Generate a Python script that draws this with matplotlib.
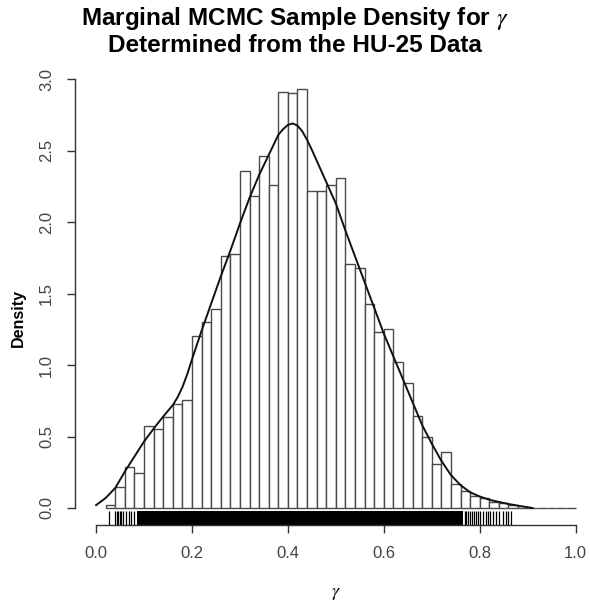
import numpy as np
import matplotlib
matplotlib.use("Agg")
import matplotlib.pyplot as plt
from matplotlib.patches import Rectangle

plt.rcParams['font.family'] = ['Liberation Sans', 'DejaVu Sans']
plt.rcParams['mathtext.fontset'] = 'stix'

# ---- data ----
bin_start = 0.02
bin_width = 0.02
hist_density = [0.02, 0.145, 0.287, 0.245, 0.573, 0.551, 0.637, 0.725, 0.758,
                1.20, 1.30, 1.39, 1.76, 1.78, 2.36, 2.18, 2.46, 2.26, 2.91,
                2.90, 2.93, 2.22, 2.22, 2.26, 2.31, 1.71, 1.68, 1.43, 1.23,
                1.25, 1.02, 0.876, 0.643, 0.494, 0.305, 0.39, 0.168, 0.121,
                0.085, 0.068, 0.044, 0.037, 0.021, 0.0, 0.0, 0.0, 0.0, 0.0, 0.0]

kde_x = [0.0, 0.02, 0.04, 0.06, 0.08, 0.10, 0.12, 0.14, 0.16, 0.17, 0.18,
         0.19, 0.20, 0.22, 0.24, 0.26, 0.28, 0.30, 0.32, 0.34, 0.36, 0.38,
         0.39, 0.40, 0.41, 0.42, 0.43, 0.44, 0.45, 0.46, 0.48, 0.50, 0.52,
         0.54, 0.56, 0.58, 0.60, 0.62, 0.64, 0.66, 0.68, 0.70, 0.72, 0.74,
         0.76, 0.78, 0.80, 0.82, 0.84, 0.86, 0.88, 0.91]
kde_y = [0.02, 0.07, 0.14, 0.255, 0.36, 0.465, 0.555, 0.64, 0.72, 0.775, 0.845,
         0.935, 1.04, 1.24, 1.43, 1.62, 1.80, 1.99, 2.17, 2.33, 2.47, 2.61,
         2.65, 2.68, 2.69, 2.675, 2.635, 2.575, 2.505, 2.43, 2.28, 2.13, 1.94,
         1.76, 1.58, 1.40, 1.22, 1.06, 0.90, 0.74, 0.58, 0.45, 0.33, 0.23,
         0.16, 0.11, 0.08, 0.058, 0.042, 0.028, 0.016, 0.0]

rug_low_ticks = [0.026, 0.040, 0.043, 0.046, 0.049, 0.052, 0.056, 0.0625,
                 0.069, 0.072, 0.078]
rug_dense_span = (0.085, 0.765)
rug_high_ticks = [0.769, 0.772, 0.776, 0.779, 0.783, 0.788, 0.792, 0.797,
                  0.801, 0.807, 0.814, 0.817, 0.822, 0.828, 0.833, 0.840,
                  0.849, 0.854, 0.859, 0.866]

x_ticks = [0.0, 0.2, 0.4, 0.6, 0.8, 1.0]
x_tick_labels = ['0.0', '0.2', '0.4', '0.6', '0.8', '1.0']
y_ticks = [0.0, 0.5, 1.0, 1.5, 2.0, 2.5, 3.0]
y_tick_labels = ['0.0', '0.5', '1.0', '1.5', '2.0', '2.5', '3.0']

# ---- figure ----
W, H = 590, 601
fig = plt.figure(figsize=(W / 100, H / 100), dpi=100)
ax = fig.add_axes([75 / W, 1 - 525 / H, 515 / W, (525 - 72) / H])
ax.set_xlim(-0.044, 1.03)
ax.set_ylim(-0.119, 3.05)

edge_col = '#4a4a4a'
lefts = bin_start + bin_width * np.arange(len(hist_density))
ax.bar(lefts, hist_density, width=bin_width, align='edge', facecolor='white',
       edgecolor=edge_col, linewidth=1.0, zorder=2)

ax.plot(kde_x, kde_y, color='#111111', linewidth=1.4, zorder=3)

# rug along the bottom of the plot region
rug_h = 0.10
y0 = -0.119
for t in rug_low_ticks + rug_high_ticks:
    ax.plot([t, t], [y0, y0 + rug_h], color='black', linewidth=0.9,
            solid_capstyle='butt', zorder=2)
ax.add_patch(Rectangle((rug_dense_span[0], y0), rug_dense_span[1] - rug_dense_span[0],
                       rug_h, facecolor='black', edgecolor='none', zorder=2))

for s in ['top', 'right']:
    ax.spines[s].set_visible(False)
ax.spines['bottom'].set_bounds(0.0, 1.0)
ax.spines['left'].set_bounds(0.0, 3.0)
for s in ['bottom', 'left']:
    ax.spines[s].set_color('#333333')
    ax.spines[s].set_linewidth(1.0)

ax.set_xticks(x_ticks)
ax.set_xticklabels(x_tick_labels)
ax.set_yticks(y_ticks)
ax.set_yticklabels(y_tick_labels, rotation=90, va='center')
ax.tick_params(axis='both', length=6, width=1.0, color='#333333',
               labelcolor='#444444', labelsize=12)
ax.tick_params(axis='x', pad=9)
ax.tick_params(axis='y', pad=9)

fig.text(0.5, 1 - 18 / H, r'Marginal MCMC Sample Density for $\gamma$',
         ha='center', va='center', fontsize=17.5, fontweight='bold')
fig.text(0.5, 1 - 45 / H, 'Determined from the HU-25 Data',
         ha='center', va='center', fontsize=17.5, fontweight='bold')
fig.text(18 / W, 1 - 318 / H, 'Density', rotation=90, ha='center',
         va='center', fontsize=11.5, fontweight='bold')
fig.text((96 + 240) / W, 1 - 593 / H, r'$\gamma$', ha='center', va='center',
         fontsize=13)

fig.savefig('out.png', dpi=100)
